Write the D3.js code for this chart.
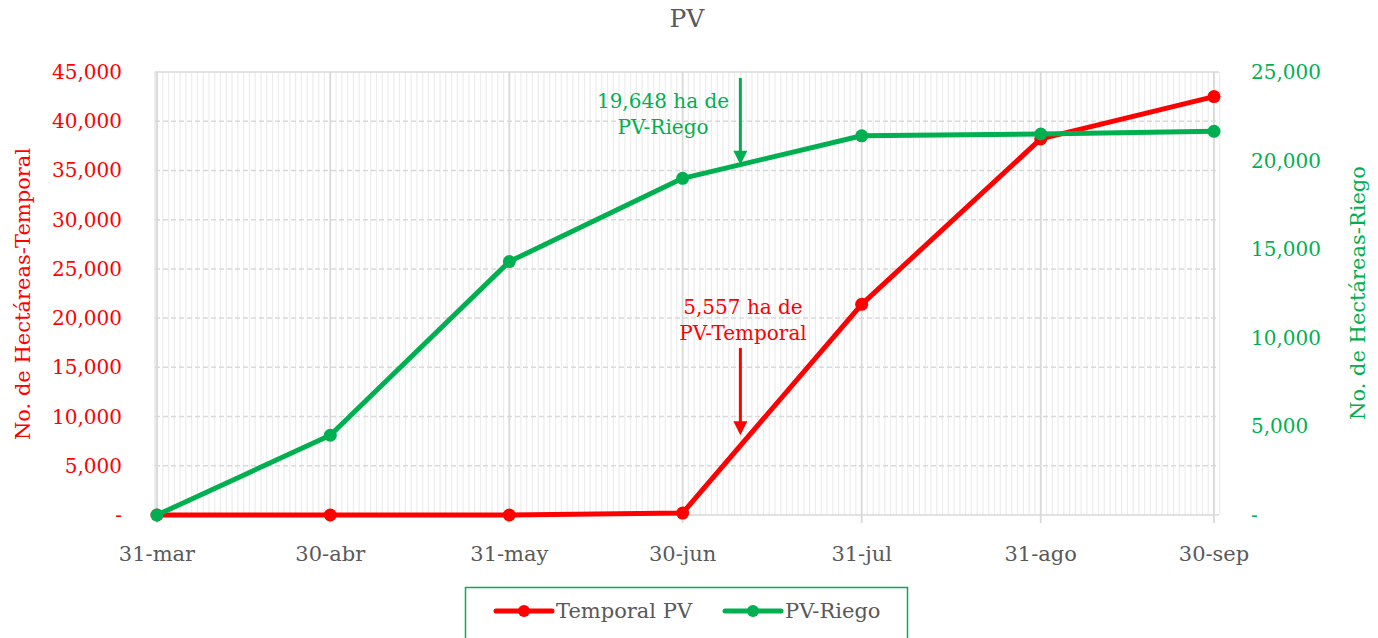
<!DOCTYPE html>
<html>
<head>
<meta charset="utf-8">
<script src="https://cdn.jsdelivr.net/npm/d3@7"></script>
<style>
  body { margin: 0; background: #fff; }
  svg text { font-family: "DejaVu Serif", serif; }
</style>
</head>
<body>
<div id="chart"></div>
<script>
var parseDate = d3.timeParse("%Y-%m-%d");

// data
var dates = ["2023-03-31", "2023-04-30", "2023-05-31", "2023-06-30", "2023-07-31", "2023-08-31", "2023-09-30"];
var tickLabels = ["31-mar", "30-abr", "31-may", "30-jun", "31-jul", "31-ago", "30-sep"];
var temporal = [0, 0, 0, 200, 21400, 38200, 42500];
var riego = [0, 4500, 14300, 19000, 21400, 21500, 21650];
var leftTicks = [0, 5000, 10000, 15000, 20000, 25000, 30000, 35000, 40000, 45000];
var rightTicks = [0, 5000, 10000, 15000, 20000, 25000];
var seriesNames = ["Temporal PV", "PV-Riego"];
var annDate = "2023-07-10";
var annRiego = 19648, annTemporal = 5557;

var red = "#ff0000", green = "#00b050", gray = "#595959";

var W = 1378, H = 638;
var svg = d3.select("#chart").append("svg")
  .attr("width", W).attr("height", H);

var xScale = d3.scaleTime()
  .domain([parseDate(dates[0]), parseDate(dates[dates.length - 1])])
  .range([157, 1214]);
var yLeft = d3.scaleLinear().domain([0, 45000]).range([515, 72]);
var yRight = d3.scaleLinear().domain([0, 25000]).range([515, 72]);

var fmt = d => d === 0 ? "-" : d3.format(",")(d);

// minor daily gridlines
var days = d3.timeDay.range(xScale.domain()[0], d3.timeDay.offset(xScale.domain()[1], 2));
svg.append("g").selectAll("line").data(days).enter().append("line")
  .attr("x1", d => xScale(d)).attr("x2", d => xScale(d))
  .attr("y1", 72).attr("y2", 515)
  .attr("stroke", "#ececec").attr("stroke-width", 1.2);

// left border line
svg.append("line").attr("x1", 155).attr("x2", 155).attr("y1", 72).attr("y2", 515)
  .attr("stroke", "#e0e0e0").attr("stroke-width", 1.2);

// horizontal gridlines
svg.append("g").selectAll("line").data(leftTicks).enter().append("line")
  .attr("x1", 155).attr("x2", 1219)
  .attr("y1", d => yLeft(d)).attr("y2", d => yLeft(d))
  .attr("stroke", "#d9d9d9").attr("stroke-width", 1.5)
  .attr("stroke-dasharray", d => (d === 0 || d === 45000) ? null : "5,3");

// major vertical gridlines
var tickDates = dates.map(parseDate);
svg.append("g").selectAll("line").data(tickDates).enter().append("line")
  .attr("x1", d => xScale(d)).attr("x2", d => xScale(d))
  .attr("y1", 72).attr("y2", 523)
  .attr("stroke", "#d9d9d9").attr("stroke-width", 1.8);

// x labels
svg.append("g").selectAll("text").data(tickDates).enter().append("text")
  .attr("x", d => xScale(d)).attr("y", 561)
  .attr("text-anchor", "middle").attr("fill", gray).attr("font-size", 21)
  .text((d, i) => tickLabels[i]);

// left axis labels
svg.append("g").selectAll("text").data(leftTicks).enter().append("text")
  .attr("x", 122).attr("y", d => yLeft(d) + 7)
  .attr("text-anchor", "end").attr("fill", red).attr("font-size", 20)
  .text(fmt);

// right axis labels
svg.append("g").selectAll("text").data(rightTicks).enter().append("text")
  .attr("x", 1251).attr("y", d => yRight(d) + 7)
  .attr("text-anchor", "start").attr("fill", green).attr("font-size", 20)
  .text(fmt);

// axis titles
svg.append("text").attr("transform", "translate(30,294) rotate(-90)")
  .attr("text-anchor", "middle").attr("fill", red).attr("font-size", 21)
  .text("No. de Hectáreas-Temporal");
svg.append("text").attr("transform", "translate(1365,293) rotate(-90)")
  .attr("text-anchor", "middle").attr("fill", green).attr("font-size", 21)
  .text("No. de Hectáreas-Riego");

// title
svg.append("text").attr("x", 687).attr("y", 27)
  .attr("text-anchor", "middle").attr("fill", gray).attr("font-size", 25)
  .text("PV");

// series
var series = [
  { name: seriesNames[0], values: temporal, scale: yLeft, color: red },
  { name: seriesNames[1], values: riego, scale: yRight, color: green }
];
series.forEach(function(s) {
  var pts = dates.map((d, i) => [xScale(parseDate(d)), s.scale(s.values[i])]);
  svg.append("path").datum(pts)
    .attr("d", d3.line())
    .attr("fill", "none").attr("stroke", s.color).attr("stroke-width", 5)
    .attr("stroke-linejoin", "round");
  svg.append("g").selectAll("circle").data(pts).enter().append("circle")
    .attr("cx", d => d[0]).attr("cy", d => d[1]).attr("r", 6.5)
    .attr("fill", s.color);
});

// annotations
function arrow(x, y1, y2, color) {
  svg.append("line").attr("x1", x).attr("x2", x).attr("y1", y1).attr("y2", y2 - 12)
    .attr("stroke", color).attr("stroke-width", 3);
  svg.append("path")
    .attr("d", "M" + (x - 7) + "," + (y2 - 14) + "L" + (x + 7) + "," + (y2 - 14) + "L" + x + "," + y2 + "Z")
    .attr("fill", color);
}
var ax = xScale(parseDate(annDate));
arrow(ax, 78, yRight(annRiego) - 2, green);
svg.append("text").attr("x", 663).attr("y", 108).attr("text-anchor", "middle")
  .attr("fill", green).attr("font-size", 20).text("19,648 ha de");
svg.append("text").attr("x", 663).attr("y", 134).attr("text-anchor", "middle")
  .attr("fill", green).attr("font-size", 20).text("PV-Riego");

arrow(ax, 348, yLeft(annTemporal) - 25, red);
svg.append("text").attr("x", 743).attr("y", 314).attr("text-anchor", "middle")
  .attr("fill", red).attr("font-size", 20).text("5,557 ha de");
svg.append("text").attr("x", 743).attr("y", 340).attr("text-anchor", "middle")
  .attr("fill", red).attr("font-size", 20).text("PV-Temporal");

// legend
svg.append("rect").attr("x", 465.5).attr("y", 587.5).attr("width", 442).attr("height", 70)
  .attr("fill", "none").attr("stroke", green).attr("stroke-width", 1.5);
var legX = [496, 725];
series.forEach(function(s, i) {
  var g = svg.append("g").attr("transform", "translate(" + legX[i] + ",611)");
  g.append("line").attr("x1", 0).attr("x2", 56).attr("y1", 0).attr("y2", 0)
    .attr("stroke", s.color).attr("stroke-width", 5).attr("stroke-linecap", "round");
  g.append("circle").attr("cx", 28).attr("cy", 0).attr("r", 6).attr("fill", s.color);
  g.append("text").attr("x", 60).attr("y", 7).attr("fill", gray).attr("font-size", 21)
    .text(s.name);
});
</script>
</body>
</html>
